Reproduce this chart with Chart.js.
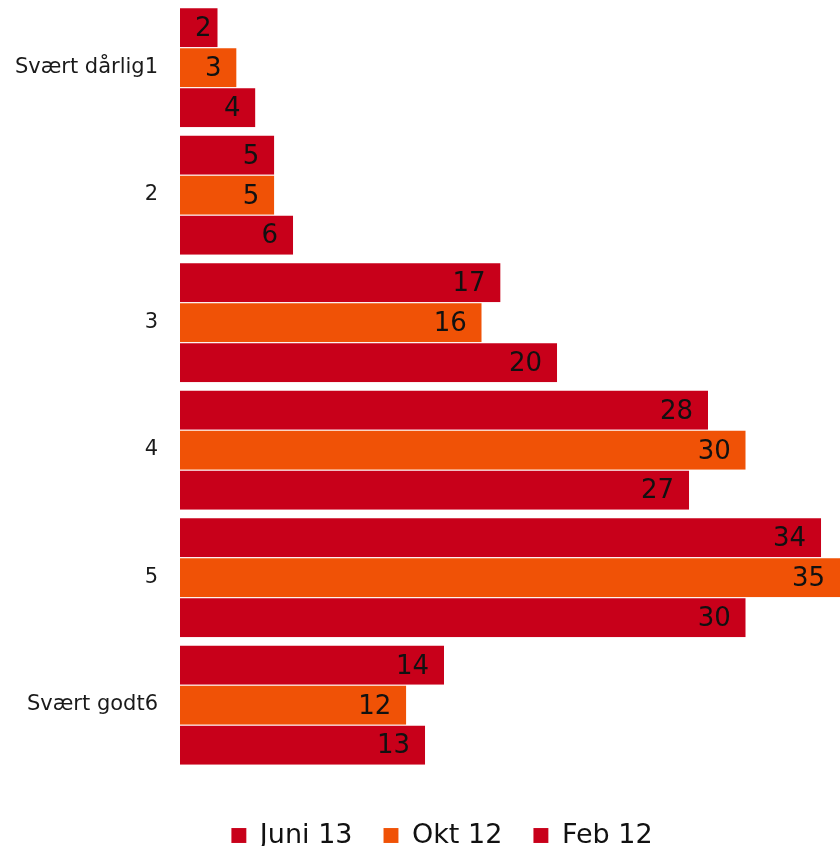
<!DOCTYPE html>
<html>
<head>
<meta charset="utf-8">
<script src="https://cdn.jsdelivr.net/npm/chart.js@4.4.1/dist/chart.umd.min.js"></script>
<style>
  html, body { margin: 0; padding: 0; background: #fff; }
  #wrap { width: 840px; height: 846px; position: relative; }
</style>
</head>
<body>
<div id="wrap"><canvas id="ratingChart"></canvas></div>
<script>
const categories = ['Svært dårlig1', '2', '3', '4', '5', 'Svært godt6'];
const juni13 = [2, 5, 17, 28, 34, 14];
const okt12  = [3, 5, 16, 30, 35, 12];
const feb12  = [4, 6, 20, 27, 30, 13];

const RED    = '#c8001a';
const ORANGE = '#f05206';
const FONT   = '"DejaVu Sans", Verdana, sans-serif';

// value text drawn inside the end of each bar, kept clear of the bar's base
const barLabels = {
    id: 'barLabels',
    afterDatasetsDraw(chart) {
        const ctx = chart.ctx;
        ctx.save();
        ctx.font = '26px ' + FONT;
        ctx.fillStyle = '#111';
        ctx.textAlign = 'left';
        ctx.textBaseline = 'middle';
        chart.data.datasets.forEach((ds, i) => {
            chart.getDatasetMeta(i).data.forEach((bar, j) => {
                const txt = String(ds.data[j]);
                const w = ctx.measureText(txt).width;
                const x = Math.max(bar.x - 15 - w, bar.base + 15);
                ctx.fillText(txt, x, bar.y + 2);
            });
        });
        ctx.restore();
    }
};

// nudge the legend row a little right of centre
const legendShift = {
    id: 'legendShift',
    afterLayout(chart) {
        chart.legend.left += 22;
        chart.legend.right += 22;
    }
};

new Chart(document.getElementById('ratingChart'), {
    type: 'bar',
    data: {
        labels: categories,
        datasets: [
            { label: 'Juni 13', data: juni13, backgroundColor: RED },
            { label: 'Okt 12',  data: okt12,  backgroundColor: ORANGE },
            { label: 'Feb 12',  data: feb12,  backgroundColor: RED }
        ]
    },
    options: {
        indexAxis: 'y',
        responsive: true,
        maintainAspectRatio: false,
        animation: false,
        datasets: {
            bar: {
                categoryPercentage: 0.94,
                barPercentage: 1,
                borderWidth: { top: 1, bottom: 0, left: 0, right: 0 },
                borderColor: 'rgba(255,255,255,0.35)'
            }
        },
        layout: { padding: { top: 3.5, right: 0, bottom: -13, left: 0 } },
        scales: {
            x: {
                min: 0,
                max: 35,
                grid: { display: false },
                border: { display: false },
                ticks: { display: false },
                // empty strip between the bars and the legend
                afterFit(scale) {
                    scale.height = 22.5;
                    scale.paddingLeft = 0;
                    scale.paddingRight = 0;
                }
            },
            y: {
                grid: { display: false },
                border: { display: false },
                afterFit(scale) {
                    scale.width = 180;
                    scale.paddingTop = 0;
                    scale.paddingBottom = 0;
                },
                ticks: {
                    color: '#1a1a1a',
                    padding: 14,
                    font: { family: FONT, size: 21 }
                }
            }
        },
        plugins: {
            legend: {
                position: 'bottom',
                labels: {
                    color: '#111',
                    boxWidth: 15,
                    boxHeight: 15,
                    padding: 31,
                    font: { family: FONT, size: 27 }
                }
            },
            tooltip: { enabled: false }
        }
    },
    plugins: [barLabels, legendShift]
});
</script>
</body>
</html>
